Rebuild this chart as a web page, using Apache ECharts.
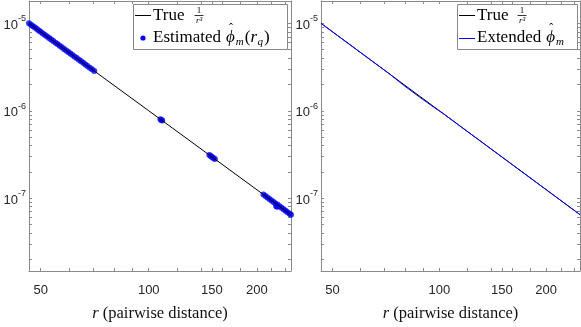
<!DOCTYPE html>
<html>
<head>
<meta charset="utf-8">
<script src="https://cdn.jsdelivr.net/npm/echarts@6/dist/echarts.min.js"></script>
<style>
  html, body { margin: 0; padding: 0; background: #fff; }
  #main { width: 581px; height: 327px; }
</style>
</head>
<body>
<div id="main"></div>
<script type="text/javascript">
// data (r, phi)
var rTrue = [46.4, 100, 249];
var phiTrue = [1.0e-5, 1.0e-6, 6.48e-8];

var rEst = [46.4, 47, 47.6, 48.2, 48.8, 49.4, 50, 50.7, 51.4, 52.1, 52.8, 53.5, 54.2, 55, 55.7, 56.5,
  57.3, 58.1, 58.9, 59.7, 60.5, 61.3, 62.2, 63, 63.9, 64.8, 65.7, 66.6, 67.5, 68.5, 69.5, 70.5,
  107.8, 108.4, 109.0,
  147.5, 148.8, 150, 151.3, 152.8,
  208.7, 211.4, 214.1, 216.9, 219.7, 222.6, 225.5, 226.5, 228, 228.4, 231.4, 234.4, 237.4, 240.5, 243.6, 246.8, 249];
var phiEst = [1.0e-5, 9.63e-6, 9.27e-6, 8.93e-6, 8.60e-6, 8.29e-6, 8.00e-6, 7.67e-6, 7.36e-6, 7.07e-6, 6.79e-6, 6.53e-6, 6.28e-6, 6.01e-6, 5.79e-6, 5.54e-6,
  5.32e-6, 5.10e-6, 4.89e-6, 4.70e-6, 4.52e-6, 4.34e-6, 4.16e-6, 4.00e-6, 3.83e-6, 3.68e-6, 3.53e-6, 3.39e-6, 3.25e-6, 3.11e-6, 2.98e-6, 2.85e-6,
  7.98e-7, 7.85e-7, 7.72e-7,
  3.12e-7, 3.04e-7, 2.96e-7, 2.89e-7, 2.80e-7,
  1.10e-7, 1.058e-7, 1.019e-7, 9.80e-8, 9.43e-8, 9.07e-8, 8.72e-8, 8.1e-8, 8.0e-8, 8.39e-8, 8.07e-8, 7.76e-8, 7.47e-8, 7.19e-8, 6.92e-8, 6.65e-8, 6.48e-8];

var rExt = [46.4, 72, 80, 88, 96, 102, 249];
var phiExt = [1.0e-5, 2.68e-6, 1.905e-6, 1.43e-6, 1.113e-6, 9.42e-7, 6.48e-8];

var xRange = [46.4, 249];
var yRange = [1.47e-8, 1.8e-5];
var xTickLabels = [50, 100, 150, 200];
var xMinorTicks = [60, 70, 80, 90, 120, 140, 160, 180, 220, 240];
var yTickExps = [-7, -6, -5];

var lg = Math.log10;
function pairs(rs, vs) {
  return rs.map(function (r, i) { return [lg(r), lg(vs[i])]; });
}
var xMajor = xTickLabels.map(lg);
var xAll = xMajor.concat(xMinorTicks.map(lg));
var yAll = [];
for (var e = -8; e <= -5; e++) {
  for (var k = 1; k <= 9; k++) {
    var v = lg(k) + e;
    if (v >= lg(yRange[0]) && v <= lg(yRange[1])) yAll.push(v);
  }
}

var axisGray = '#8a8a8a';
var labelCol = '#262626';
var serif = '"Liberation Serif", "DejaVu Serif", serif';
var sans = '"Liberation Sans", Arial, sans-serif';

function xAxes(g) {
  var base = {
    type: 'value', gridIndex: g, min: lg(xRange[0]), max: lg(xRange[1]),
    axisLine: { show: true, onZero: false, lineStyle: { color: axisGray, width: 1 } },
    axisTick: { show: true, inside: true, length: 3, customValues: xAll, lineStyle: { color: axisGray } },
    splitLine: { show: false }
  };
  var bottom = echarts.util.merge({
    position: 'bottom',
    axisLabel: {
      show: true, customValues: xMajor, margin: 13, color: labelCol,
      fontFamily: sans, fontSize: 13,
      formatter: function (v) { return Math.round(Math.pow(10, v)); }
    },
    name: '{it|r} (pairwise distance)', nameLocation: 'middle', nameGap: 34,
    nameTextStyle: {
      fontFamily: serif, fontSize: 16.5, color: '#111',
      rich: { it: { fontFamily: serif, fontStyle: 'italic', fontSize: 16.5, color: '#111' } }
    }
  }, base, true);
  var top = echarts.util.merge({ position: 'top', axisLabel: { show: false } }, base, true);
  return [bottom, top];
}

function yAxes(g) {
  var base = {
    type: 'value', gridIndex: g, min: lg(yRange[0]), max: lg(yRange[1]),
    axisLine: { show: true, onZero: false, lineStyle: { color: axisGray, width: 1 } },
    axisTick: { show: true, inside: true, length: 3, customValues: yAll, lineStyle: { color: axisGray } },
    splitLine: { show: false }
  };
  var left = echarts.util.merge({
    position: 'left',
    axisLabel: {
      show: true, customValues: yTickExps, margin: 3, color: labelCol,
      fontFamily: sans, fontSize: 13,
      formatter: function (v) { return '{b|10}{sup|' + Math.round(v) + '}'; },
      rich: {
        b: { fontSize: 13, color: labelCol, fontFamily: sans, padding: [4, 0, 0, 0] },
        sup: { fontSize: 9, color: labelCol, fontFamily: sans, padding: [0, 0, 9, 0] }
      }
    }
  }, base, true);
  var right = echarts.util.merge({ position: 'right', axisLabel: { show: false } }, base, true);
  return [left, right];
}

var xa = xAxes(0).concat(xAxes(1));
var ya = yAxes(0).concat(yAxes(1));

// legend text helpers (laid out left to right with measured widths)
var ctx = document.createElement('canvas').getContext('2d');
function width(s, font) { ctx.font = font; return ctx.measureText(s).width; }
function txt(x, y, s, font, align) {
  return { type: 'text', x: x, y: y, z: 101,
    style: { text: s, font: font, fill: '#000', align: align || 'left', verticalAlign: 'middle' } };
}
var fMain = '17px ' + serif;
var fItal = 'italic 17px ' + serif;
var fSub = 'italic 11px ' + serif;

// pieces: [text, font, dy, extraGapBefore]
function mathRow(x, y, pieces) {
  var out = [];
  pieces.forEach(function (p) {
    x += p[3] || 0;
    out.push(txt(x, y + p[2], p[0], p[1]));
    if (p[0] === 'ϕ') out.push(txt(x + 5, y - 9, 'ˆ', '12px ' + serif, 'center'));
    x += width(p[0], p[1]);
  });
  return out;
}
function fraction(cx) {
  return [
    txt(cx, 10.5, '1', '9px ' + serif, 'center'),
    { type: 'line', z: 101, shape: { x1: cx - 4.5, y1: 15.5, x2: cx + 4.5, y2: 15.5 }, style: { stroke: '#000', lineWidth: 0.8 } },
    txt(cx, 21, 'r³', 'italic 9px ' + serif, 'center')
  ];
}

var graphics = [
  // left legend
  { type: 'rect', z: 100, shape: { x: 133.5, y: 4.5, width: 154, height: 45 }, style: { fill: '#fff', stroke: '#888', lineWidth: 1 } },
  { type: 'line', z: 101, shape: { x1: 135, y1: 15.5, x2: 151, y2: 15.5 }, style: { stroke: '#000', lineWidth: 1 } },
  txt(153, 16, 'True', fMain),
  { type: 'circle', z: 101, shape: { cx: 143, cy: 38, r: 2.6 }, style: { fill: '#0000ff' } },
  // right legend
  { type: 'rect', z: 100, shape: { x: 457.5, y: 4.5, width: 120, height: 45 }, style: { fill: '#fff', stroke: '#888', lineWidth: 1 } },
  { type: 'line', z: 101, shape: { x1: 459, y1: 15.5, x2: 475, y2: 15.5 }, style: { stroke: '#000', lineWidth: 1 } },
  txt(477, 16, 'True', fMain),
  { type: 'line', z: 101, shape: { x1: 459, y1: 38.5, x2: 475, y2: 38.5 }, style: { stroke: '#0000ff', lineWidth: 1 } }
].concat(
  fraction(199), fraction(522),
  mathRow(153, 38, [['Estimated', fMain, 0], ['ϕ', fItal, 0, 5], ['m', fSub, 4, 1], ['(', fMain, 0, 1],
    ['r', fItal, 0], ['q', fSub, 4, 0.5], [')', fMain, 0, 1]]),
  mathRow(477, 38, [['Extended', fMain, 0], ['ϕ', fItal, 0, 5], ['m', fSub, 4, 1]])
);

var myChart = echarts.init(document.getElementById('main'));
var option = {
  animation: false,
  backgroundColor: '#fff',
  grid: [
    { left: 29, right: 290, top: 1, bottom: 41 },
    { left: 321, right: 1, top: 1, bottom: 41 }
  ],
  xAxis: xa,
  yAxis: ya,
  graphic: graphics,
  series: [
    {
      name: 'True', type: 'line', xAxisIndex: 0, yAxisIndex: 0, showSymbol: false,
      lineStyle: { color: '#000', width: 1 }, data: pairs(rTrue, phiTrue)
    },
    {
      name: 'Estimated', type: 'scatter', xAxisIndex: 0, yAxisIndex: 0, symbolSize: 6,
      itemStyle: { color: '#0000ff' }, data: pairs(rEst, phiEst)
    },
    {
      name: 'True', type: 'line', xAxisIndex: 2, yAxisIndex: 2, showSymbol: false,
      lineStyle: { color: '#000', width: 1 }, data: pairs(rTrue, phiTrue)
    },
    {
      name: 'Extended', type: 'line', xAxisIndex: 2, yAxisIndex: 2, showSymbol: false,
      lineStyle: { color: '#0000ff', width: 1 }, data: pairs(rExt, phiExt)
    }
  ]
};
myChart.setOption(option);
</script>
</body>
</html>
